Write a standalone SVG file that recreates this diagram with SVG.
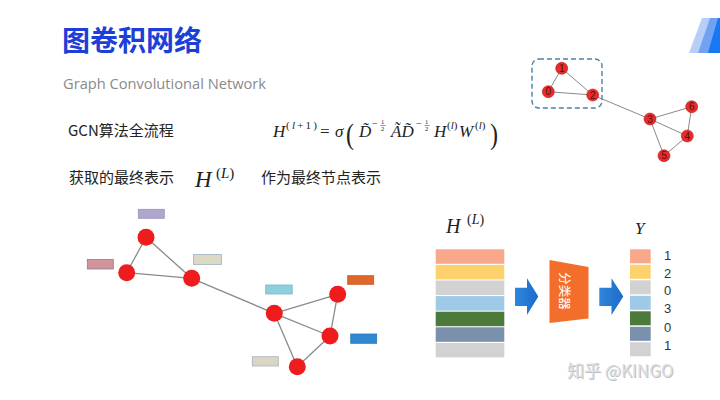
<svg xmlns="http://www.w3.org/2000/svg" width="720" height="400" viewBox="0 0 720 400">
<defs>
<style>
.cjk{font-family:"Noto Sans CJK SC","Noto Sans",sans-serif;}
.math{font-family:"Liberation Serif","DejaVu Serif",serif;font-style:italic;fill:#222;}
.up{font-family:"Liberation Serif","DejaVu Serif",serif;font-style:normal;fill:#222;}
.edge{stroke:#8a8a8a;stroke-width:1.3;fill:none;}
.edge-s{stroke:#8a8a8a;stroke-width:1;fill:none;}
.node{fill:#ee1c1c;}
.snode{fill:#e52b2b;stroke:#c41a1a;stroke-width:0.6;}
.nlabel{font-family:"Liberation Sans",Arial,sans-serif;font-size:10px;fill:#5a0c0c;text-anchor:middle;}
.feat{stroke-width:0.8;}
.digit{font-family:"Liberation Sans",Arial,sans-serif;font-size:13px;fill:#333;text-anchor:middle;}
</style>
<linearGradient id="arrg" x1="0" y1="0" x2="1" y2="0">
<stop offset="0" stop-color="#2f86dc"/>
<stop offset="1" stop-color="#1a6cc8"/>
</linearGradient>
</defs>
<rect width="720" height="400" fill="#ffffff"/>

<!-- top-right decoration -->
<g id="decoration">
<polygon points="689,53 702,18 720,18 720,53" fill="#b7cff8"/>
<polygon points="698,53 710,18 720,18 720,53" fill="#6fa3f2"/>
<polygon points="708,53 718,18 720,18 720,53" fill="#1877f2"/>
</g>

<!-- titles -->
<g id="title">
<text x="62" y="51" class="cjk" font-size="28" font-weight="bold" fill="#1d3fd8">图卷积网络</text>
<text x="63" y="89" font-family="'Open Sans','Noto Sans',sans-serif" font-size="15" fill="#8a8a8a" textLength="203" lengthAdjust="spacingAndGlyphs">Graph Convolutional Network</text>
</g>

<!-- formula line -->
<g id="line1">
<text x="68" y="136" class="cjk" font-size="15" fill="#222">GCN算法全流程</text>
<g id="formula">
<text x="273" y="137" class="math" font-size="17">H</text>
<text x="286" y="129" class="up" font-size="11" textLength="31" lengthAdjust="spacing">(<tspan font-style="italic">l</tspan>+1)</text>
<text x="320" y="137" class="up" font-size="17">=</text>
<text x="335" y="137" class="math" font-size="17">σ</text>
<text x="346" y="144" class="up" font-size="30" transform="translate(346 144) scale(0.8 1) translate(-346 -144)">(</text>
<text x="359" y="137" class="math" font-size="17">D̃</text>
<text x="372" y="127" class="up" font-size="10">−</text>
<text x="381" y="124" class="up" font-size="6.5">1</text>
<line x1="380.5" y1="125.5" x2="385.5" y2="125.5" stroke="#222" stroke-width="0.5"/>
<text x="381" y="131" class="up" font-size="6.5">2</text>
<text x="391" y="137" class="math" font-size="17">ÃD̃</text>
<text x="416" y="127" class="up" font-size="10">−</text>
<text x="425" y="124" class="up" font-size="6.5">1</text>
<line x1="424.5" y1="125.5" x2="429.5" y2="125.5" stroke="#222" stroke-width="0.5"/>
<text x="425" y="131" class="up" font-size="6.5">2</text>
<text x="434" y="137" class="math" font-size="17">H</text>
<text x="447" y="129" class="up" font-size="11">(<tspan font-style="italic">l</tspan>)</text>
<text x="459" y="137" class="math" font-size="17">W</text>
<text x="475" y="129" class="up" font-size="11">(<tspan font-style="italic">l</tspan>)</text>
<text x="490" y="144" class="up" font-size="30" transform="translate(490 144) scale(0.8 1) translate(-490 -144)">)</text>
</g>
</g>

<!-- second line -->
<g id="line2">
<text x="69" y="183" class="cjk" font-size="15" fill="#222">获取的最终表示</text>
<text x="195" y="187" class="math" font-size="23">H</text>
<text x="216" y="178" class="up" font-size="15">(<tspan font-style="italic">L</tspan>)</text>
<text x="261" y="183" class="cjk" font-size="15" fill="#222">作为最终节点表示</text>
</g>

<!-- small graph top-right -->
<g id="small-graph">
<g id="small-edges">
<line class="edge-s" x1="561.7" y1="68.3" x2="548.3" y2="91.7"/>
<line class="edge-s" x1="561.7" y1="68.3" x2="592.7" y2="95"/>
<line class="edge-s" x1="548.3" y1="91.7" x2="592.7" y2="95"/>
<line class="edge-s" x1="592.7" y1="95" x2="650" y2="119"/>
<line class="edge-s" x1="650" y1="119" x2="691.7" y2="106.7"/>
<line class="edge-s" x1="650" y1="119" x2="687.3" y2="136"/>
<line class="edge-s" x1="650" y1="119" x2="664" y2="155.7"/>
<line class="edge-s" x1="691.7" y1="106.7" x2="687.3" y2="136"/>
<line class="edge-s" x1="687.3" y1="136" x2="664" y2="155.7"/>
</g>
<rect id="small-box" x="532" y="59" width="70" height="49" rx="7" fill="none" stroke="#4f81a8" stroke-width="1.4" stroke-dasharray="5 3"/>
<g id="s1"><circle class="snode" cx="561.7" cy="68.3" r="6"/><text class="nlabel" x="561.7" y="71.8">1</text></g>
<g id="s0"><circle class="snode" cx="548.3" cy="91.7" r="6"/><text class="nlabel" x="548.3" y="95.2">0</text></g>
<g id="s2"><circle class="snode" cx="592.7" cy="95" r="6"/><text class="nlabel" x="592.7" y="98.5">2</text></g>
<g id="s3"><circle class="snode" cx="650" cy="119" r="6"/><text class="nlabel" x="650" y="122.5">3</text></g>
<g id="s6"><circle class="snode" cx="691.7" cy="106.7" r="6"/><text class="nlabel" x="691.7" y="110.2">6</text></g>
<g id="s4"><circle class="snode" cx="687.3" cy="136" r="6"/><text class="nlabel" x="687.3" y="139.5">4</text></g>
<g id="s5"><circle class="snode" cx="664" cy="155.7" r="6"/><text class="nlabel" x="664" y="159.2">5</text></g>
</g>

<!-- big graph -->
<g id="connectors">
<line class="edge" x1="146" y1="237.3" x2="126.7" y2="272.7"/>
<line class="edge" x1="146" y1="237.3" x2="191.7" y2="278.3"/>
<line class="edge" x1="126.7" y1="272.7" x2="191.7" y2="278.3"/>
<line class="edge" x1="191.7" y1="278.3" x2="274.3" y2="313.3"/>
<line class="edge" x1="274.3" y1="313.3" x2="337.7" y2="294.3"/>
<line class="edge" x1="274.3" y1="313.3" x2="330" y2="336"/>
<line class="edge" x1="274.3" y1="313.3" x2="297.3" y2="366.7"/>
<line class="edge" x1="337.7" y1="294.3" x2="330" y2="336"/>
<line class="edge" x1="330" y1="336" x2="297.3" y2="366.7"/>
</g>
<g id="nA"><circle class="node" cx="146" cy="237.3" r="8.5"/></g>
<g id="nB"><circle class="node" cx="126.7" cy="272.7" r="8.5"/></g>
<g id="nC"><circle class="node" cx="191.7" cy="278.3" r="8.5"/></g>
<g id="nD"><circle class="node" cx="274.3" cy="313.3" r="8.5"/></g>
<g id="nE"><circle class="node" cx="337.7" cy="294.3" r="8.5"/></g>
<g id="nF"><circle class="node" cx="330" cy="336" r="8.5"/></g>
<g id="nG"><circle class="node" cx="297.3" cy="366.7" r="8.5"/></g>

<g id="features">
<rect class="feat" x="138.3" y="209.3" width="26" height="9" fill="#b1a6cd" stroke="#9d93bd"/>
<rect class="feat" x="87.3" y="259.5" width="26" height="9.5" fill="#d3939a" stroke="#8b7f8f"/>
<rect class="feat" x="193.5" y="254.5" width="28" height="10" fill="#dcd8c6" stroke="#9fb3c2"/>
<rect class="feat" x="265.7" y="285" width="26.5" height="9" fill="#8ecfdd" stroke="#79b6c7"/>
<rect class="feat" x="347.7" y="275.7" width="26" height="8.6" fill="#e0672b" stroke="#c05a25"/>
<rect class="feat" x="350.7" y="334" width="26" height="9.3" fill="#3288d0" stroke="#2a78b8"/>
<rect class="feat" x="252.3" y="356.7" width="26" height="9.3" fill="#dad6c5" stroke="#a7b2b8"/>
</g>

<!-- H(L) matrix -->
<g id="hl-matrix">
<text x="446" y="233" class="math" font-size="20">H</text>
<text x="467" y="224" class="up" font-size="14">(<tspan font-style="italic">L</tspan>)</text>
<rect x="435.7" y="249.3" width="68.6" height="14.5" fill="#f9a98b"/>
<rect x="435.7" y="264.9" width="68.6" height="14.5" fill="#fdd26d"/>
<rect x="435.7" y="280.5" width="68.6" height="14.5" fill="#d2d2d2"/>
<rect x="435.7" y="296.1" width="68.6" height="14.5" fill="#9ec9e7"/>
<rect x="435.7" y="311.7" width="68.6" height="14.5" fill="#4b7a3b"/>
<rect x="435.7" y="327.3" width="68.6" height="14.5" fill="#7a91ad"/>
<rect x="435.7" y="342.9" width="68.6" height="14.5" fill="#d2d2d2"/>
</g>

<g id="arrow1"><polygon fill="url(#arrg)" points="515,287.7 527,287.7 527,278.3 538.3,296.6 527,315 527,306 515,306"/></g>

<g id="classifier">
<polygon points="549.5,260 588.5,267 588.5,318.5 549.5,323" fill="#f36e2a"/>
<text x="0" y="0" class="cjk" font-size="12.5" fill="#ffffff" text-anchor="middle" transform="translate(564.5 291) rotate(90)" dy="4.3">分类器</text>
</g>

<g id="arrow2"><polygon fill="url(#arrg)" points="599.3,287.7 611.5,287.7 611.5,278.3 623.3,296.6 611.5,315 611.5,306 599.3,306"/></g>

<!-- Y vector -->
<g id="y-vector">
<text x="635" y="234" class="math" font-size="17">Y</text>
<rect x="630" y="249.3" width="20.7" height="14" fill="#f9a98b"/>
<rect x="630" y="264.8" width="20.7" height="14" fill="#fdd26d"/>
<rect x="630" y="280.3" width="20.7" height="14" fill="#d2d2d2"/>
<rect x="630" y="295.8" width="20.7" height="14" fill="#9ec9e7"/>
<rect x="630" y="311.3" width="20.7" height="14" fill="#4b7a3b"/>
<rect x="630" y="326.8" width="20.7" height="14" fill="#7a91ad"/>
<rect x="630" y="342.3" width="20.7" height="14" fill="#d2d2d2"/>
<text class="digit" x="667.5" y="259.5">1</text>
<text class="digit" x="667.5" y="278.3">2</text>
<text class="digit" x="667.5" y="295.2">0</text>
<text class="digit" x="667.5" y="313.3">3</text>
<text class="digit" x="667.5" y="331.5">0</text>
<text class="digit" x="667.5" y="350">1</text>
</g>

<!-- watermark -->
<g id="watermark">
<text x="568" y="378" class="cjk" font-size="17" fill="#8a8a8a" opacity="0.55">知乎 @KINGO</text>
<text x="567" y="377" class="cjk" font-size="17" fill="#dedede">知乎 @KINGO</text>
</g>
</svg>
